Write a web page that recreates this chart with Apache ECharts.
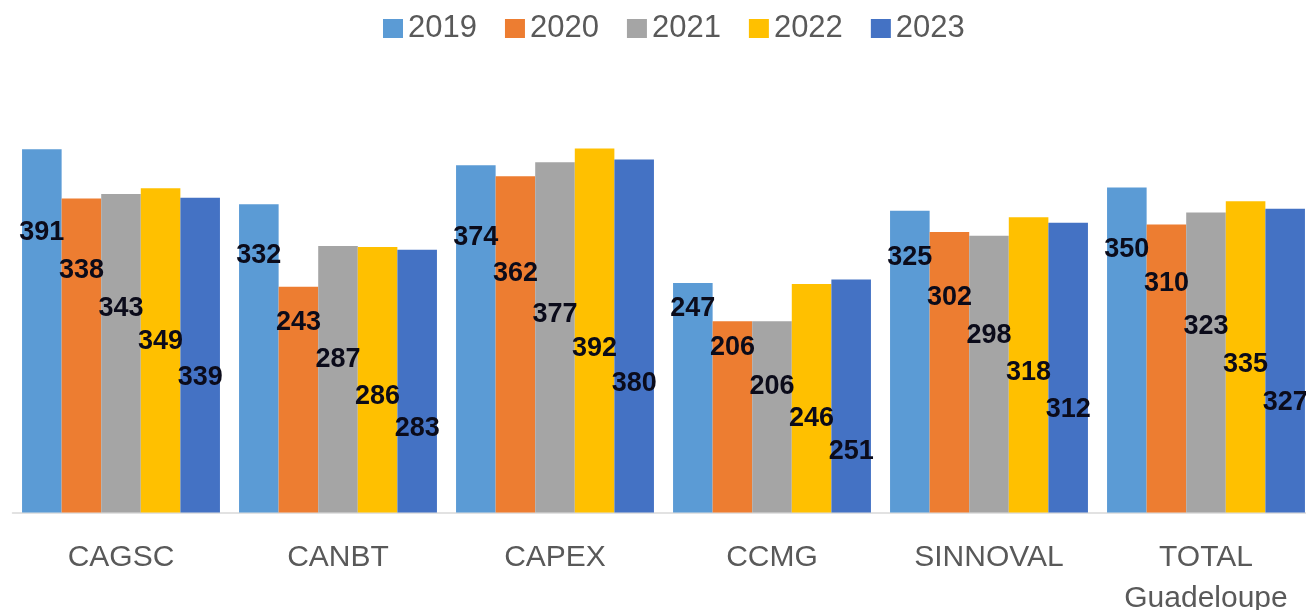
<!DOCTYPE html>
<html>
<head>
<meta charset="utf-8">
<style>
  html, body { margin: 0; padding: 0; background: #fff; }
  #chart { width: 1306px; height: 610px; }
</style>
<script src="https://cdn.jsdelivr.net/npm/echarts@6/dist/echarts.min.js"></script>
</head>
<body>
<div id="chart"></div>
<script>
const categories = ['CAGSC', 'CANBT', 'CAPEX', 'CCMG', 'SINNOVAL', 'TOTAL\nGuadeloupe']
const years = ['2019', '2020', '2021', '2022', '2023']

const v2019 = [391, 332, 374, 247, 325, 350]
const v2020 = [338, 243, 362, 206, 302, 310]
const v2021 = [343, 287, 377, 206, 298, 323]
const v2022 = [349, 286, 392, 246, 318, 335]
const v2023 = [339, 283, 380, 251, 312, 327]
const values = [v2019, v2020, v2021, v2022, v2023]

// height (axis units) where each value label sits, as placed in the source
const lvl2019 = [301, 277, 296, 220, 274, 283]
const lvl2020 = [260, 205, 257, 178, 231, 246]
const lvl2021 = [220, 165, 213, 136, 190, 200]
const lvl2022 = [184, 125, 176, 101, 151, 159]
const lvl2023 = [145, 90, 139, 66, 111, 118]
const levels = [lvl2019, lvl2020, lvl2021, lvl2022, lvl2023]

const colors = ['#5B9BD5', '#ED7D31', '#A5A5A5', '#FFC000', '#4472C4']

const Y_MAX = 400
const GRID = { left: 12.5, right: -8.5, top: 141, bottom: 97.5, outerBoundsMode: 'none' }
const pxPerUnit = (610 - GRID.top - GRID.bottom) / Y_MAX

const font = '"Liberation Sans", Arial, sans-serif'

const chart = echarts.init(document.getElementById('chart'))

const series = years.map((y, s) => ({
  name: y,
  type: 'bar',
  barGap: 0,
  barCategoryGap: '8.8%',
  itemStyle: { color: colors[s] },
  data: values[s].map((v, i) => ({
    value: v,
    label: {
      show: true,
      position: ['50%', (v - levels[s][i]) * pxPerUnit],
      align: 'center',
      verticalAlign: 'middle',
      color: '#0b0b1a',
      fontSize: 27,
      fontWeight: 'bold',
      fontFamily: font
    }
  }))
}))

chart.setOption({
  animation: false,
  color: colors,
  legend: {
    top: 8,
    left: 378,
    data: years,
    itemWidth: 20,
    itemHeight: 19,
    itemGap: 28,
    icon: 'rect',
    textStyle: { color: '#595959', fontSize: 31, fontFamily: font }
  },
  grid: GRID,
  xAxis: {
    type: 'category',
    data: categories,
    axisLine: { lineStyle: { color: '#d9d9d9', width: 1.5 } },
    axisTick: { show: false },
    axisLabel: { color: '#595959', fontSize: 30, fontFamily: font, margin: 25, lineHeight: 41 }
  },
  yAxis: {
    type: 'value',
    min: 0,
    max: Y_MAX,
    show: false,
    splitLine: { show: false }
  },
  series
})
</script>
</body>
</html>
